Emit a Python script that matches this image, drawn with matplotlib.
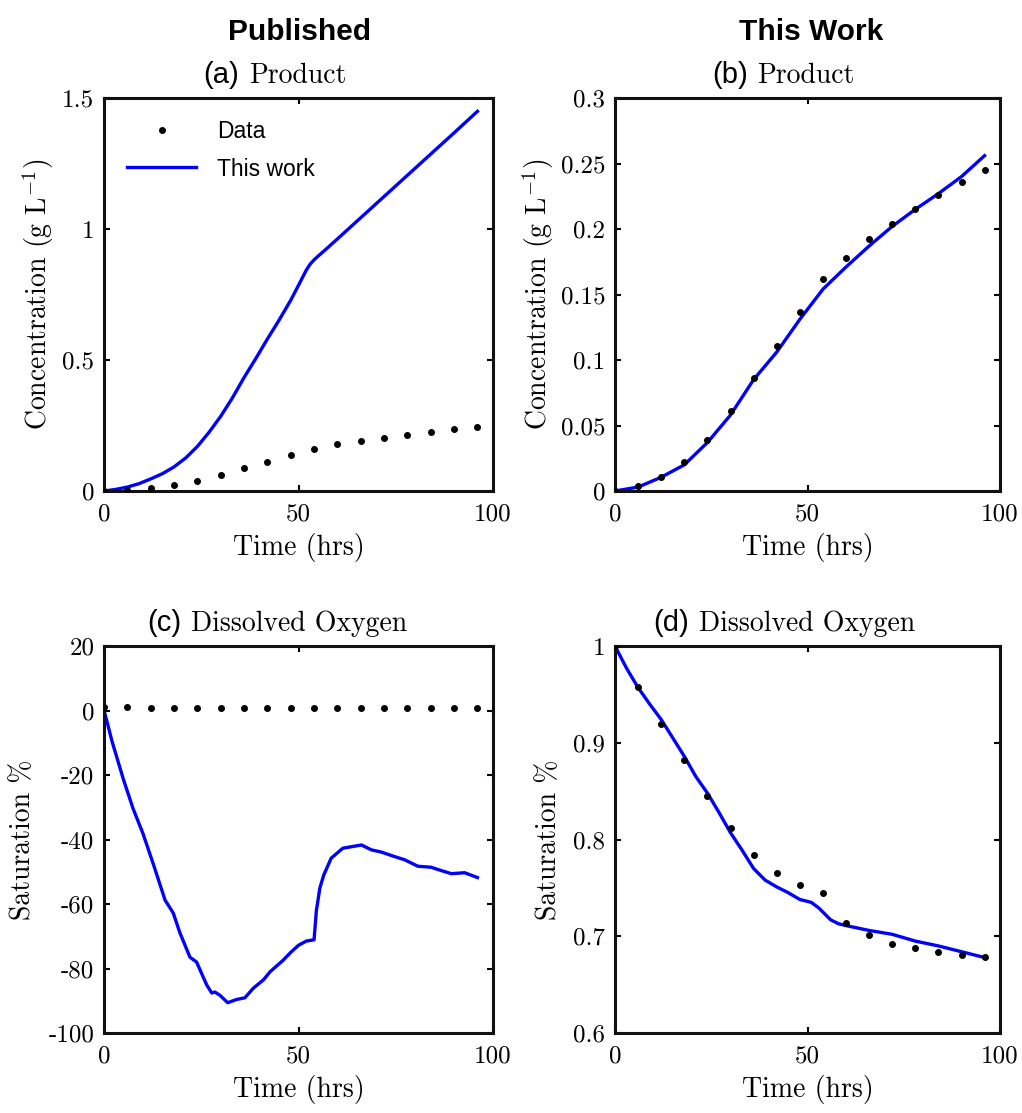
import matplotlib
matplotlib.use("Agg")
import matplotlib.pyplot as plt
import numpy as np

plt.rcParams['mathtext.fontset'] = 'cm'
plt.rcParams['axes.unicode_minus'] = False

# ---------------- data ----------------
t_data = [0, 6, 12, 18, 24, 30, 36, 42, 48, 54, 60, 66, 72, 78, 84, 90, 96]
product_data = [0.0, 0.0036, 0.0107, 0.0224, 0.039, 0.061, 0.086, 0.111, 0.137,
                0.162, 0.178, 0.192, 0.204, 0.215, 0.226, 0.236, 0.245]
do_data = [1.0, 0.958, 0.919, 0.882, 0.845, 0.812, 0.784, 0.765, 0.753,
           0.745, 0.714, 0.701, 0.692, 0.688, 0.684, 0.681, 0.679]

# (a) published model, product
t_a = [0, 3, 6, 9, 12, 15, 18, 21, 24, 27, 30, 33, 36, 39, 42, 45, 48, 50,
       52, 53, 54, 55, 57, 60, 66, 72, 78, 84, 90, 96]
prod_pub = [0.0, 0.006, 0.015, 0.028, 0.046, 0.066, 0.092, 0.126, 0.170,
            0.224, 0.285, 0.355, 0.433, 0.505, 0.580, 0.652, 0.728, 0.785,
            0.843, 0.866, 0.882, 0.896, 0.922, 0.962, 1.043, 1.124, 1.205,
            1.286, 1.367, 1.449]

# (b) this work model, product
t_b = [0, 6, 12, 18, 24, 30, 36, 42, 48, 54, 60, 66, 72, 78, 84, 90, 96]
prod_tw = [0.0, 0.003, 0.0105, 0.020, 0.037, 0.058, 0.085, 0.106, 0.131, 0.154,
           0.171, 0.187, 0.202, 0.215, 0.227, 0.240, 0.256]

# (c) published model, dissolved oxygen
t_c = [0, 1, 2, 5, 7.5, 10, 12.7, 15.7, 17.8, 19.5, 22.1, 23.8, 26.4, 27.7,
       28.5, 29.8, 31.8, 34.1, 36.2, 38.4, 41, 42.7, 46, 48, 50, 52, 54,
       54.6, 55.5, 56.5, 58.4, 61.4, 66.2, 68.7, 71.3, 74.7, 77.3, 80.7,
       84.1, 85.8, 89.3, 92.7, 96]
do_pub = [0, -4.5, -9.3, -21.4, -30.5, -38.1, -47.7, -58.8, -62.8, -68.9,
          -76.5, -78.0, -85.1, -87.6, -87.3, -88.3, -90.6, -89.6, -89.1,
          -86.1, -83.5, -81.0, -77.5, -75.0, -72.8, -71.5, -71.1, -62.0,
          -55.0, -51.0, -45.8, -42.7, -41.7, -43.2, -43.9, -45.3, -46.3,
          -48.3, -48.6, -49.3, -50.6, -50.3, -51.8]

# (d) this work model, dissolved oxygen
t_d = [0, 3, 6, 9, 12, 15, 18, 21, 24, 27, 30, 33, 36, 39, 42, 45, 48, 51, 53,
       56, 58, 60, 66, 72, 78, 84, 90, 96]
do_tw = [1.0, 0.977, 0.957, 0.940, 0.924, 0.905, 0.886, 0.865, 0.848, 0.828,
         0.807, 0.789, 0.770, 0.758, 0.751, 0.745, 0.738, 0.735, 0.729, 0.717,
         0.713, 0.711, 0.706, 0.702, 0.695, 0.690, 0.684, 0.678]

x_ticks = [0, 50, 100]
x_ticklabels = ['0', '50', '100']
yt_a = [0, 0.5, 1, 1.5]; yl_a = ['0', '0.5', '1', '1.5']
yt_b = [0, 0.05, 0.1, 0.15, 0.2, 0.25, 0.3]
yl_b = ['0', '0.05', '0.1', '0.15', '0.2', '0.25', '0.3']
yt_c = [-100, -80, -60, -40, -20, 0, 20]
yl_c = ['-100', '-80', '-60', '-40', '-20', '0', '20']
yt_d = [0.6, 0.7, 0.8, 0.9, 1.0]
yl_d = ['0.6', '0.7', '0.8', '0.9', '1']

# ---------------- figure ----------------
W, H = 1022, 1113
fig = plt.figure(figsize=(W / 100, H / 100), dpi=100)

def px_axes(l, t, r, b):
    return fig.add_axes([l / W, 1 - b / H, (r - l) / W, (b - t) / H])

ax_a = px_axes(104, 98, 493, 491)
ax_b = px_axes(615, 98, 1000, 491)
ax_c = px_axes(104, 646, 493, 1033)
ax_d = px_axes(615, 646, 1000, 1033)

SERIF = 'cmr10'
SANS = ['Liberation Sans', 'DejaVu Sans']
BLUE = (0, 0, 1)
TICK_FS = 18
LABEL_FS = 20

def style(ax, yt, yl, ylim, ylabel, ylab_x, letter, name, split):
    ax.set_xlim(0, 100)
    ax.set_ylim(*ylim)
    ax.set_xticks(x_ticks)
    ax.set_xticklabels(x_ticklabels, fontfamily=SERIF, fontsize=TICK_FS)
    ax.set_yticks(yt)
    ax.set_yticklabels(yl, fontfamily=SERIF, fontsize=TICK_FS)
    ax.tick_params(direction='in', top=True, right=True, length=4, width=1.5,
                   pad=7, colors='black')
    ax.tick_params(axis='x', pad=9)
    for s in ax.spines.values():
        s.set_linewidth(2.2)
        s.set_color('#111111')
    h_px = ax.get_position().height * H
    ax.text(0.5, -56 / h_px, 'Time (hrs)', transform=ax.transAxes,
            ha='center', va='center', fontfamily=SERIF, fontsize=LABEL_FS)
    ax.text(ylab_x, 0.5, ylabel, transform=ax.transAxes, rotation=90,
            ha='center', va='center', fontfamily=SERIF, fontsize=LABEL_FS)
    ax.text(split - 0.012, 1 + 15 / h_px, letter, transform=ax.transAxes,
            ha='right', va='baseline', fontfamily=SANS, fontsize=21)
    ax.text(split + 0.012, 1 + 15 / h_px, name, transform=ax.transAxes,
            ha='left', va='baseline', fontfamily=SERIF, fontsize=LABEL_FS)

conc_label = r'Concentration (g L$^{-1}$)'
sat_label = 'Saturation %'

# (a)
ax_a.plot(t_data, product_data, 'o', color='black', markersize=4, label='Data',
          zorder=3)
ax_a.plot(t_a, prod_pub, '-', color=BLUE, linewidth=2.4, label='This work')
style(ax_a, yt_a, yl_a, (0, 1.5), conc_label, -0.168, '(a)', 'Product', 0.36)
leg = ax_a.legend(loc='upper left', bbox_to_anchor=(0.06, 0.945), frameon=False,
                  prop={'family': SANS, 'size': 16.5}, handlelength=3.0,
                  handletextpad=0.9, borderpad=0, borderaxespad=0,
                  labelspacing=0.65)

# (b)
ax_b.plot(t_data, product_data, 'o', color='black', markersize=4, zorder=3)
ax_b.plot(t_b, prod_tw, '-', color=BLUE, linewidth=2.4)
style(ax_b, yt_b, yl_b, (0, 0.3), conc_label, -0.2, '(b)', 'Product', 0.357)

# (c)
ax_c.plot(t_data, do_data, 'o', color='black', markersize=4, zorder=3)
ax_c.plot(t_c, do_pub, '-', color=BLUE, linewidth=2.4)
style(ax_c, yt_c, yl_c, (-100, 20), sat_label, -0.208, '(c)',
      'Dissolved Oxygen', 0.211)

# (d)
ax_d.plot(t_data, do_data, 'o', color='black', markersize=4, zorder=3)
ax_d.plot(t_d, do_tw, '-', color=BLUE, linewidth=2.4)
style(ax_d, yt_d, yl_d, (0.6, 1.0), sat_label, -0.171, '(d)',
      'Dissolved Oxygen', 0.205)

# column headers
fig.text(300 / W, 1 - 40 / H, 'Published', ha='center', va='baseline',
         fontfamily=SANS, fontsize=21.5, fontweight='bold')
fig.text(811 / W, 1 - 40 / H, 'This Work', ha='center', va='baseline',
         fontfamily=SANS, fontsize=21.5, fontweight='bold')

fig.savefig('out.png', dpi=100, facecolor='white')
